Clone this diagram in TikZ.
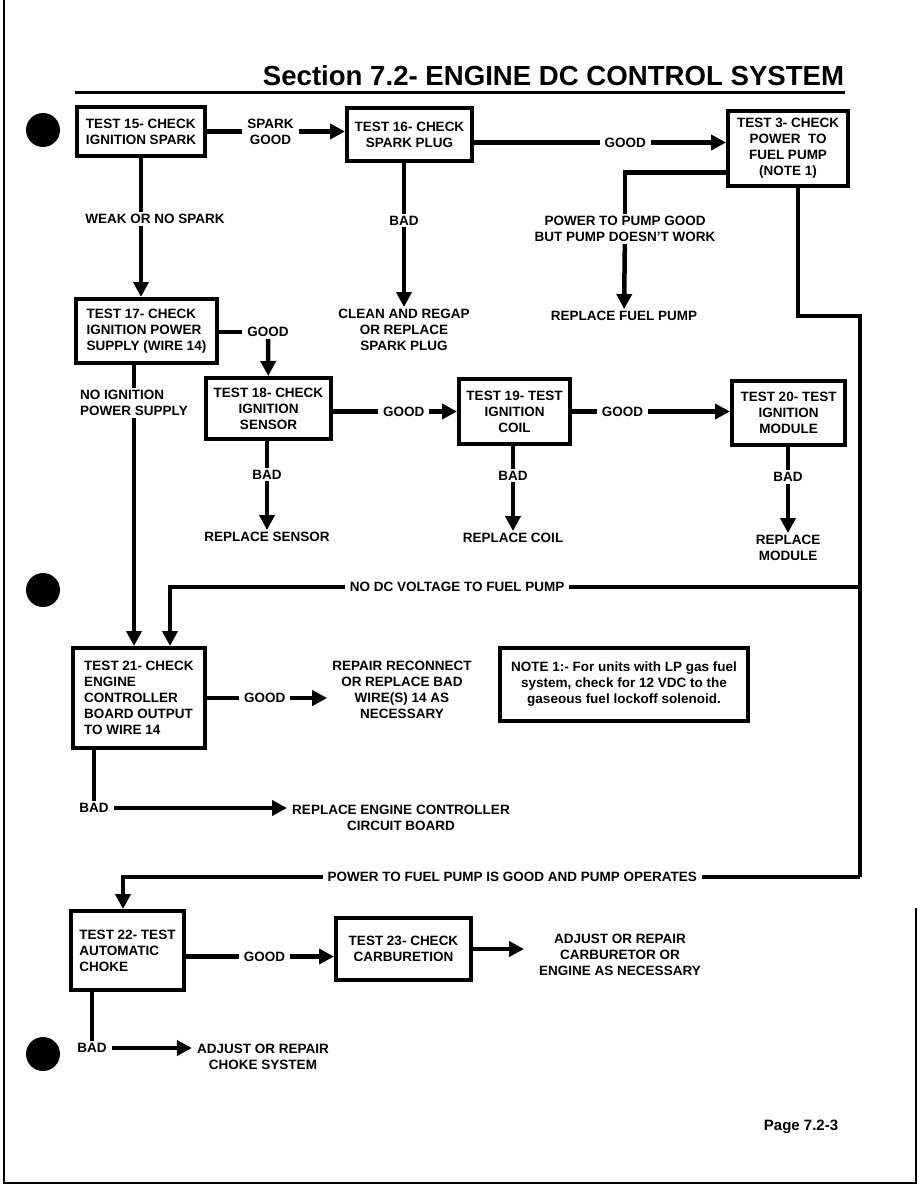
\documentclass[tikz,border=0pt]{standalone}
\usepackage{fontspec}
\setmainfont{Liberation Sans}
\usetikzlibrary{arrows.meta,positioning}

\begin{document}
\begin{tikzpicture}[x=1pt, y=-1pt,
  box/.style={draw, line width=4pt, align=center, inner sep=2pt,
    font=\bfseries\fontsize{13.5}{16}\selectfont},
  lbl/.style={align=center, fill=white, inner xsep=5pt, inner ysep=2pt,
    font=\bfseries\fontsize{13.5}{16}\selectfont},
  wire/.style={line width=4.5pt},
  conn/.style={line width=4.5pt, -{Triangle[length=15pt,width=15pt]}}]
\useasboundingbox (0,0) rectangle (918,1188);
% page edges and heading
\draw[line width=1.5pt] (4,0) -- (4,1183) -- (916,1183) -- (916,908);
\node[font=\bfseries\fontsize{27.6}{30}\selectfont] (title) at (553.5,76) {Section 7.2- ENGINE DC CONTROL SYSTEM};
\draw[line width=3pt] (75,93) -- (845,93);
\foreach \by in {130,590,1054} \fill (43,\by) circle (17pt);
% test boxes
\node[box, minimum width=128pt, minimum height=49pt, align=left] (t15) at (141,131.5) {TEST 15- CHECK\\IGNITION SPARK};
\node[box, minimum width=125pt, minimum height=53pt] (t16) at (409.5,134.5) {TEST 16- CHECK\\SPARK PLUG};
\node[box, minimum width=120pt, minimum height=75pt] (t3) at (788,148.5) {TEST 3- CHECK\\POWER\ \ TO\\FUEL PUMP\\(NOTE 1)};
\node[box, minimum width=141pt, minimum height=64pt, align=left] (t17) at (146.5,331) {TEST 17- CHECK\\IGNITION POWER\\SUPPLY (WIRE 14)};
\node[box, minimum width=125pt, minimum height=61pt] (t18) at (268.5,408.5) {TEST 18- CHECK\\IGNITION\\SENSOR};
\node[box, minimum width=111pt, minimum height=65pt] (t19) at (514.5,411.5) {TEST 19- TEST\\IGNITION\\COIL};
\node[box, minimum width=113pt, minimum height=64pt] (t20) at (788.5,413) {TEST 20- TEST\\IGNITION\\MODULE};
\node[box, minimum width=132pt, minimum height=100pt, align=left] (t21) at (139,698) {TEST 21- CHECK\\ENGINE\\CONTROLLER\\BOARD OUTPUT\\TO WIRE 14};
\node[box, minimum width=248pt, minimum height=73pt] (note) at (624,684.5) {NOTE 1:- For units with LP gas fuel\\system, check for 12 VDC to the\\gaseous fuel lockoff solenoid.};
\node[box, minimum width=113pt, minimum height=79pt, align=left] (t22) at (127.5,950.5) {TEST 22- TEST\\AUTOMATIC\\CHOKE};
\node[box, minimum width=135pt, minimum height=62pt] (t23) at (403.5,949) {TEST 23- CHECK\\CARBURETION};
% outcomes
\node[lbl] (clean) at (404,330) {CLEAN AND REGAP\\OR REPLACE\\SPARK PLUG};
\node[lbl] (pgood) at (625,229) {POWER TO PUMP GOOD\\BUT PUMP DOESN'T WORK};
\node[lbl] (fpump) at (624,316) {REPLACE FUEL PUMP};
\node[lbl] (g17) at (268,332) {GOOD};
\node[lbl] (sensor) at (267,537) {REPLACE SENSOR};
\node[lbl] (coil) at (513,538) {REPLACE COIL};
\node[lbl] (module) at (788,548) {REPLACE\\MODULE};
\node[lbl] (repair) at (402,690) {REPAIR RECONNECT\\OR REPLACE BAD\\WIRE(S) 14 AS\\NECESSARY};
\node[lbl] (bad21) at (94,808) {BAD};
\node[lbl] (ctrl) at (401,818) {REPLACE ENGINE CONTROLLER\\CIRCUIT BOARD};
\node[lbl] (carb) at (620,955) {ADJUST OR REPAIR\\CARBURETOR OR\\ENGINE AS NECESSARY};
\node[lbl] (bad22) at (92,1048) {BAD};
\node[lbl] (choke) at (263,1057) {ADJUST OR REPAIR\\CHOKE SYSTEM};
% right hand trunk
\coordinate (c1) at (860,316);
\coordinate (c2) at (860,877);
\coordinate (c3) at (860,587);
% connectors
\draw[conn] (t15.east) -- node[lbl, pos=0.46] {SPARK\\GOOD} (t15.east -| t16.west);
\draw[conn] ([yshift=-8pt]t16.east) -- node[lbl, pos=0.6] {GOOD} ([yshift=-8pt]t16.east -| t3.west);
\draw[conn] (t15.south) -- node[lbl, pos=0.44, xshift=14pt] {WEAK OR NO SPARK} (t15.south |- t17.north);
\draw[conn] (t16.south -| clean) -- node[lbl, pos=0.4] {BAD} (clean);
\draw[wire] ([yshift=-24pt]t3.west) -| (pgood.north);
\draw[conn] (pgood) -- (fpump);
\draw[wire] ([xshift=10pt]t3.south) |- (c1) -- (c2);
\draw[conn] (c2) -| node[lbl, pos=0.236] {POWER TO FUEL PUMP IS GOOD AND PUMP OPERATES} ([xshift=-4.5pt]t22.north);
\draw[conn] (c3) -| node[lbl, pos=0.292] {NO DC VOLTAGE TO FUEL PUMP} ([xshift=31pt]t21.north);
\draw[conn] ([xshift=-12.5pt]t17.south) -- node[lbl, pos=0.135, align=left] {NO IGNITION\\POWER SUPPLY} ([xshift=-12.5pt]t17.south |- t21.north);
\draw[wire] (t17.east |- g17) -- (g17);
\draw[conn] (g17) -- (t18);
\draw[conn] (t18.east |- t19) -- node[lbl, pos=0.57] {GOOD} (t19);
\draw[conn] (t19.east) -- node[lbl, pos=0.32] {GOOD} (t19.east -| t20.west);
\draw[conn] (t18.south -| sensor) -- node[lbl, pos=0.38] {BAD} (sensor);
\draw[conn] (t19.south -| coil) -- node[lbl, pos=0.35] {BAD} (coil);
\draw[conn] (t20.south -| module) -- node[lbl, pos=0.35] {BAD} (module);
\draw[conn] (t21) -- node[lbl, pos=0.48] {GOOD} (t21 -| repair.west);
\draw[wire] (t21.south -| bad21) -- (bad21);
\draw[conn] (bad21) -- (bad21 -| ctrl.west);
\draw[conn] ([yshift=-6pt]t22.east) -- node[lbl, pos=0.53] {GOOD} ([yshift=-6pt]t22.east -| t23.west);
\draw[conn, shorten >=10pt] (t23) -- (t23 -| carb.west);
\draw[wire] (t22.south -| bad22) -- (bad22);
\draw[conn] (bad22) -- (bad22 -| choke.west);
% page number
\node[font=\bfseries\fontsize{15}{18}\selectfont] (page) at (801,1127) {Page 7.2-3};
\end{tikzpicture}
\end{document}
